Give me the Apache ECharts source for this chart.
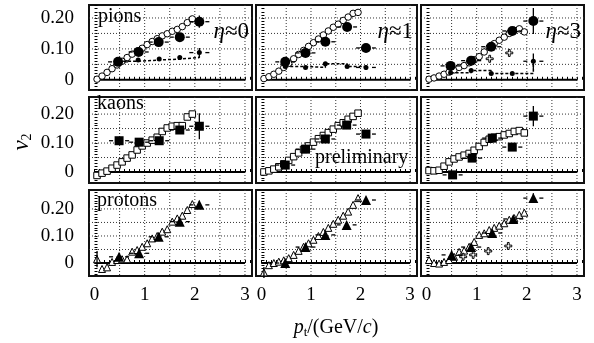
<!DOCTYPE html>
<html>
<head>
<meta charset="utf-8">
<script src="https://cdn.jsdelivr.net/npm/echarts@6/dist/echarts.min.js"></script>
<style>
  html, body { margin: 0; padding: 0; background: #fff; }
  #chart { width: 594px; height: 343px; }
</style>
</head>
<body>
<div id="chart"></div>
<script>
// pt bin centres of the open-symbol series
var ptBins = [0.05, 0.15, 0.25, 0.35, 0.45, 0.55, 0.65, 0.75, 0.85, 0.95, 1.05, 1.15, 1.25, 1.35, 1.45, 1.55, 1.65, 1.75, 1.85, 1.95];

// open symbols (one value per bin)
var pionOpen0 = [0.002, 0.012, 0.024, 0.036, 0.048, 0.060, 0.072, 0.083, 0.093, 0.102, 0.114, 0.124, 0.133, 0.142, 0.149, 0.157, 0.163, 0.172, 0.185, 0.197];
var pionOpen1 = [0.004, 0.010, 0.018, 0.028, 0.040, 0.053, 0.068, 0.082, 0.095, 0.108, 0.120, 0.132, 0.145, 0.158, 0.170, 0.180, 0.192, 0.203, 0.215, 0.218];
var pionOpen3 = [0.002, 0.006, 0.012, 0.018, 0.025, 0.032, 0.040, 0.046, 0.055, 0.065, 0.075, 0.090, 0.105, 0.117, 0.128, 0.138, 0.150, 0.160, 0.165, 0.155];
var kaonOpen0 = [-0.012, -0.004, 0.003, 0.013, 0.024, 0.035, 0.048, 0.059, 0.076, 0.090, 0.100, 0.110, 0.120, 0.140, 0.152, 0.158, 0.160, 0.160, 0.190, 0.200];
var kaonOpen1 = [0.000, 0.004, 0.010, 0.018, 0.028, 0.040, 0.053, 0.066, 0.078, 0.090, 0.103, 0.115, 0.126, 0.136, 0.148, 0.160, 0.170, 0.182, 0.192, 0.203];
var kaonOpen3 = [0.005, 0.004, 0.006, 0.020, 0.035, 0.045, 0.052, 0.058, 0.064, 0.075, 0.088, 0.102, 0.113, 0.120, 0.122, 0.128, 0.133, 0.140, 0.143, 0.135];
var protonOpen0 = [0.014, -0.022, -0.016, 0.004, 0.011, 0.014, 0.014, 0.042, 0.048, 0.060, 0.073, 0.091, 0.100, 0.116, 0.125, 0.153, 0.165, 0.175, 0.196, 0.218];
var protonOpen1 = [-0.035, -0.008, 0.000, 0.005, 0.010, 0.018, 0.030, 0.045, 0.060, 0.073, 0.086, 0.100, 0.115, 0.130, 0.145, 0.160, 0.175, 0.190, 0.215, 0.240];
var protonOpen3 = [0.011, 0.000, -0.002, 0.004, 0.011, 0.023, 0.041, 0.046, 0.060, 0.078, 0.104, 0.110, 0.122, 0.130, 0.138, 0.147, 0.160, 0.166, 0.178, 0.186];
// error on first open point [x, v2, err]
var protonOpenErr0 = [[0.05, 0.014, 0.03]];
var protonOpenErr1 = [[0.05, -0.035, 0.02]];

// filled symbols [pt, v2, v2 error]
var pionFilled0 = [[0.47, 0.058, 0.008], [0.88, 0.090, 0.008], [1.28, 0.122, 0.006], [1.70, 0.138, 0.006], [2.09, 0.188, 0.020]];
var pionFilled1 = [[0.48, 0.058, 0.006], [0.89, 0.087, 0.006], [1.29, 0.123, 0.006], [1.73, 0.171, 0.008], [2.11, 0.103, 0.012]];
var pionFilled3 = [[0.48, 0.045, 0.010], [0.89, 0.062, 0.010], [1.29, 0.107, 0.010], [1.71, 0.158, 0.012], [2.13, 0.190, 0.042]];
var kaonFilled0 = [[0.49, 0.108, 0.008], [0.89, 0.103, 0.008], [1.29, 0.108, 0.010], [1.70, 0.145, 0.012], [2.09, 0.158, 0.045]];
var kaonFilled1 = [[0.48, 0.024, 0.006], [0.89, 0.079, 0.006], [1.29, 0.114, 0.008], [1.72, 0.162, 0.010], [2.11, 0.131, 0.012]];
var kaonFilled3 = [[0.52, -0.010, 0.008], [0.91, 0.048, 0.008], [1.31, 0.117, 0.010], [1.71, 0.086, 0.012], [2.13, 0.193, 0.035]];
var protonFilled0 = [[0.49, 0.023, 0.012], [0.89, 0.036, 0.010], [1.28, 0.097, 0.010], [1.70, 0.153, 0.010], [2.09, 0.215, 0.015]];
var protonFilled1 = [[0.48, 0.000, 0.008], [0.89, 0.059, 0.008], [1.29, 0.104, 0.008], [1.72, 0.141, 0.010], [2.11, 0.233, 0.012]];
var protonFilled3 = [[0.50, 0.030, 0.015], [0.89, 0.059, 0.010], [1.31, 0.111, 0.010], [1.73, 0.163, 0.010], [2.13, 0.240, 0.018]];
var filledHalfBin = 0.2;

// small pion dots (dashed step line) [pt, v2, v2 error]
var pionSmall0 = [[0.47, 0.060, 0], [0.87, 0.064, 0], [1.29, 0.067, 0], [1.70, 0.072, 0], [2.09, 0.088, 0.015]];
var pionSmall1 = [[0.48, 0.043, 0], [0.89, 0.040, 0], [1.29, 0.052, 0], [1.73, 0.043, 0], [2.11, 0.040, 0.008]];
var pionSmall3 = [[0.48, 0.023, 0], [0.89, 0.030, 0], [1.29, 0.020, 0], [1.71, 0.020, 0], [2.13, 0.060, 0.025]];

// open crosses (eta ~ 3)
var pionCross3 = [[1.26, 0.068], [1.65, 0.087]];
var protonCross3 = [[0.73, 0.023], [0.93, 0.030], [1.23, 0.044], [1.63, 0.063]];

// axes
var xTickLabels = [0, 1, 2, 3];
var yTickLabels = [0, 0.1, 0.2];
var xGridLines = [0.5, 1, 1.5, 2, 2.5, 3];
var yGridLines = [0.05, 0.1, 0.15, 0.2];
var zeroLine = [[0, 0], [3, 0]];

var colLeft = [89, 256, 421];
var colWidth = [163, 161, 163];
var rowTop = [5, 97, 190];
var rowHeight = [85, 86, 86];
var rowMin = [-0.033, -0.038, -0.048];
var rowMax = [0.242, 0.259, 0.27];
var xMin = -0.11, xMax = 3.14;

var serif = "Liberation Serif";
var plusPath = 'path://M3,0H5V3H8V5H5V8H3V5H0V3H3Z';

var chart = echarts.init(document.getElementById('chart'));

var xMinor = [];
for (var t = 0; t <= 31; t++) xMinor.push(+(t * 0.1).toFixed(2));

var grids = [], xAxes = [], yAxes = [], series = [];

var tickRich = { t: { fontSize: 19, fontFamily: serif, color: '#000' } };

function gridLineItem(params, api) {
  var cs = params.coordSys;
  var kind = api.value(0), v = api.value(1);
  var shape;
  if (kind === 0) {
    var px = api.coord([v, 0])[0];
    shape = { x1: px, y1: cs.y, x2: px, y2: cs.y + cs.height };
  } else {
    var py = api.coord([0, v])[1];
    shape = { x1: cs.x, y1: py, x2: cs.x + cs.width, y2: py };
  }
  return { type: 'line', shape: shape, style: { stroke: '#333', lineWidth: 1, lineDash: [1, 2] } };
}

function errItem(params, api) {
  var x = api.value(0), y = api.value(1), ex = api.value(2), ey = api.value(3);
  var c = api.coord([x, y]);
  var st = { stroke: '#000', lineWidth: 1.3 };
  var kids = [];
  if (ex > 0) {
    var l = api.coord([x - ex, y])[0], r = api.coord([x + ex, y])[0];
    kids.push({ type: 'line', shape: { x1: l, y1: c[1], x2: c[0] - 6, y2: c[1] }, style: st });
    kids.push({ type: 'line', shape: { x1: c[0] + 6, y1: c[1], x2: r, y2: c[1] }, style: st });
  }
  if (ey > 0) {
    var tp = api.coord([x, y + ey])[1], bt = api.coord([x, y - ey])[1];
    kids.push({ type: 'line', shape: { x1: c[0], y1: tp, x2: c[0], y2: bt }, style: st });
  }
  return { type: 'group', children: kids };
}

function addPanel(row, col, open, openSym, openErr, filled, filledSym, small, cross) {
  var i = grids.length;
  grids.push({ left: colLeft[col], top: rowTop[row], width: colWidth[col], height: rowHeight[row],
    show: true, borderColor: '#111', borderWidth: 2, backgroundColor: '#fff' });
  xAxes.push({
    gridIndex: i, type: 'value', min: xMin, max: xMax,
    axisLine: { show: false }, splitLine: { show: false },
    axisTick: { show: true, inside: true, length: 3, customValues: xMinor, lineStyle: { color: '#000' } },
    axisLabel: { show: row === 2, customValues: xTickLabels, margin: 10, rich: tickRich,
      formatter: function (v) { return '{t|' + v + '}'; } }
  });
  var yMinor = [];
  for (var k = -5; k <= 27; k++) {
    var vv = +(k * 0.01).toFixed(2);
    if (vv > rowMin[row] && vv < rowMax[row]) yMinor.push(vv);
  }
  yAxes.push({
    gridIndex: i, type: 'value', min: rowMin[row], max: rowMax[row],
    axisLine: { show: false }, splitLine: { show: false },
    axisTick: { show: true, inside: true, length: 3, customValues: yMinor, lineStyle: { color: '#000' } },
    axisLabel: { show: col === 0, customValues: yTickLabels, margin: 15, rich: tickRich,
      formatter: function (v) { return '{t|' + (v === 0 ? '0' : v.toFixed(2)) + '}'; } }
  });
  var gl = [];
  xGridLines.forEach(function (v) { gl.push([0, v]); });
  yGridLines.forEach(function (v) { gl.push([1, v]); });
  series.push({ type: 'custom', xAxisIndex: i, yAxisIndex: i, renderItem: gridLineItem, data: gl, z: 1, silent: true });
  series.push({ type: 'line', xAxisIndex: i, yAxisIndex: i, data: zeroLine, symbol: 'none', z: 2,
    lineStyle: { color: '#000', width: 2 }, silent: true });
  series.push({ type: 'scatter', xAxisIndex: i, yAxisIndex: i, z: 3, symbol: openSym, symbolSize: openSym === 'triangle' ? 7 : 6.5,
    itemStyle: { color: '#fff', borderColor: '#000', borderWidth: 1, opacity: 1 },
    data: ptBins.map(function (x, k) { return [x, open[k]]; }) });
  if (openErr) {
    series.push({ type: 'custom', xAxisIndex: i, yAxisIndex: i, renderItem: errItem, z: 4,
      data: openErr.map(function (p) { return [p[0], p[1], 0, p[2]]; }) });
  }
  if (small) {
    series.push({ type: 'line', xAxisIndex: i, yAxisIndex: i, z: 4, step: 'end',
      data: small.map(function (p) { return [p[0], p[1]]; }),
      symbol: 'circle', symbolSize: 5, itemStyle: { color: '#000', opacity: 1 },
      lineStyle: { color: '#000', width: 1.5, type: [3, 2] } });
    series.push({ type: 'custom', xAxisIndex: i, yAxisIndex: i, renderItem: errItem, z: 4,
      data: small.filter(function (p) { return p[2] > 0; }).map(function (p) { return [p[0], p[1], filledHalfBin, p[2]]; }) });
  }
  if (cross) {
    series.push({ type: 'scatter', xAxisIndex: i, yAxisIndex: i, z: 4, symbol: plusPath, symbolSize: 7,
      itemStyle: { color: '#fff', borderColor: '#000', borderWidth: 1, opacity: 1 }, data: cross });
  }
  series.push({ type: 'custom', xAxisIndex: i, yAxisIndex: i, renderItem: errItem, z: 5,
    data: filled.map(function (p) { return [p[0], p[1], filledHalfBin, p[2]]; }) });
  series.push({ type: 'scatter', xAxisIndex: i, yAxisIndex: i, z: 6, symbol: filledSym,
    symbolSize: filledSym === 'rect' ? 9 : 10, itemStyle: { color: '#000', opacity: 1 },
    data: filled.map(function (p) { return [p[0], p[1]]; }) });
}

addPanel(0, 0, pionOpen0, 'circle', null, pionFilled0, 'circle', pionSmall0, null);
addPanel(0, 1, pionOpen1, 'circle', null, pionFilled1, 'circle', pionSmall1, null);
addPanel(0, 2, pionOpen3, 'circle', null, pionFilled3, 'circle', pionSmall3, pionCross3);
addPanel(1, 0, kaonOpen0, 'rect', null, kaonFilled0, 'rect', null, null);
addPanel(1, 1, kaonOpen1, 'rect', null, kaonFilled1, 'rect', null, null);
addPanel(1, 2, kaonOpen3, 'rect', null, kaonFilled3, 'rect', null, null);
addPanel(2, 0, protonOpen0, 'triangle', protonOpenErr0, protonFilled0, 'triangle', null, null);
addPanel(2, 1, protonOpen1, 'triangle', protonOpenErr1, protonFilled1, 'triangle', null, null);
addPanel(2, 2, protonOpen3, 'triangle', null, protonFilled3, 'triangle', null, protonCross3);

function label(text, x, y, size, align, extra) {
  return { type: 'text', x: x, y: y, z: 100,
    style: { text: text, fill: '#000', font: size + 'px "' + serif + '"', align: align || 'left', verticalAlign: 'middle',
      rich: extra || {} } };
}

var richEta = {
  i: { fontStyle: 'italic', fontSize: 23, fontFamily: serif },
  n: { fontSize: 23, fontFamily: serif }
};

var graphics = [
  label('pions', 98, 17, 20),
  label('kaons', 97, 104, 20),
  label('protons', 97, 201, 20),
  label('{i|η}{n|≈0}', 249, 32, 23, 'right', richEta),
  label('{i|η}{n|≈1}', 413, 32, 23, 'right', richEta),
  label('{i|η}{n|≈3}', 581, 32, 23, 'right', richEta),
  label('preliminary', 315, 158, 20),
  label('{i|p}{s|t}{n|/(GeV/}{i|c}{n|)}', 336, 328, 20, 'center', {
    i: { fontStyle: 'italic', fontSize: 20, fontFamily: serif },
    n: { fontSize: 20, fontFamily: serif },
    s: { fontSize: 13, fontFamily: serif, padding: [10, 0, 0, 0] }
  })
];
var v2 = label('{i|v}{s|2}', 22, 142, 22, 'center', {
  i: { fontStyle: 'italic', fontSize: 23, fontFamily: serif },
  s: { fontSize: 14, fontFamily: serif, padding: [10, 0, 0, 0] }
});
v2.rotation = Math.PI / 2;
graphics.push(v2);

chart.setOption({
  animation: false,
  backgroundColor: '#fff',
  grid: grids,
  xAxis: xAxes,
  yAxis: yAxes,
  series: series,
  graphic: graphics
});
</script>
</body>
</html>
